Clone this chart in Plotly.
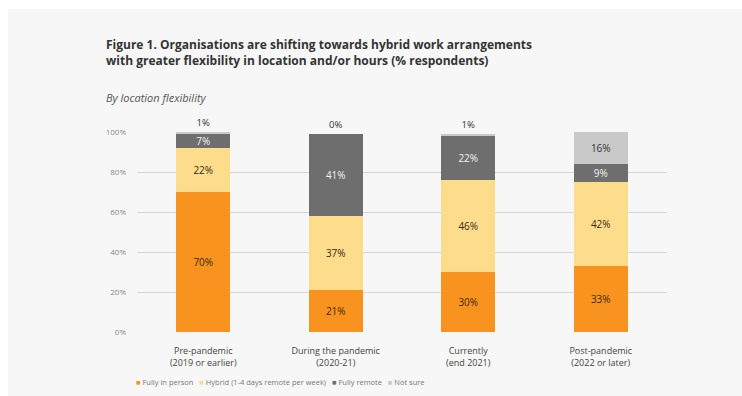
import plotly.graph_objects as go

categories = ["Pre-pandemic<br>(2019 or earlier)", "During the pandemic<br>(2020-21)",
              "Currently<br>(end 2021)", "Post-pandemic<br>(2022 or later)"]
in_person = [70, 21, 30, 33]
hybrid = [22, 37, 46, 42]
fully_remote = [7, 41, 22, 9]
not_sure = [1, 0, 1, 16]
series_names = ["Fully in person", "Hybrid (1-4 days remote per week)", "Fully remote", "Not sure"]
tick_vals = [0, 20, 40, 60, 80, 100]
tick_text = ["0%", "20%", "40%", "60%", "80%", "100%"]

colors = ["#F7931E", "#FDDC8C", "#6E6E6E", "#C9C9C9"]
text_colors = ["#3a2a10", "#3a2a10", "#f2f2f2", "#333333"]
series = [in_person, hybrid, fully_remote, not_sure]

fig = go.Figure()
for i, (name, vals) in enumerate(zip(series_names, series)):
    if i == 3:
        pos = ["outside" if v < 5 else "inside" for v in vals]
    else:
        pos = "inside"
    fig.add_trace(go.Bar(
        x=categories, y=vals, name=name, marker=dict(color=colors[i], line=dict(width=0)),
        text=[f"{v}%" for v in vals], textposition=pos, insidetextanchor="middle",
        textangle=0, constraintext="none",
        textfont=dict(color=text_colors[i], size=10),
        outsidetextfont=dict(color="#333333", size=9.5),
        cliponaxis=False, hoverinfo="skip", showlegend=False,
    ))

legend_text = "   ".join(
    f"<span style='color:{c}'>■</span> {n}" for c, n in zip(colors, series_names)
)

fig.update_layout(
    barmode="stack", bargap=0.59,
    width=742, height=396,
    margin=dict(l=137, r=75, t=132, b=64),
    paper_bgcolor="#ffffff", plot_bgcolor="#f7f7f7",
    font=dict(family="Open Sans", color="#444444"),
    showlegend=False,
    xaxis=dict(showgrid=False, tickfont=dict(size=9, color="#444444"), ticks="", showline=False,
               automargin=False, ticklabelstandoff=12),
    yaxis=dict(range=[0, 100], tickvals=tick_vals, ticktext=tick_text, automargin=False,
               showgrid=True, gridcolor="#d6d6d6", gridwidth=1, zeroline=False,
               tickfont=dict(size=8, color="#888888"), ticklabelstandoff=10),
    shapes=[dict(type="rect", xref="paper", yref="paper", x0=-0.243, x1=1.3, y0=-0.5, y1=1.615,
                 fillcolor="#f7f7f7", line=dict(width=0), layer="below")],
    annotations=[
        dict(text="<b>Figure 1. Organisations are shifting towards hybrid work arrangements<br>"
                  "with greater flexibility in location and/or hours (% respondents)</b>",
             xref="paper", yref="paper", x=-0.062, y=1.40, xanchor="left", yanchor="middle",
             align="left", showarrow=False, font=dict(size=12, color="#333333")),
        dict(text="<i>By location flexibility</i>",
             xref="paper", yref="paper", x=-0.062, y=1.175, xanchor="left", yanchor="middle",
             showarrow=False, font=dict(size=11, color="#555555")),
        dict(text=legend_text,
             xref="paper", yref="paper", x=-0.005, y=-0.25, xanchor="left", yanchor="middle",
             showarrow=False, font=dict(size=7.5, color="#777777")),
    ],
)

fig.write_html("out.html")
